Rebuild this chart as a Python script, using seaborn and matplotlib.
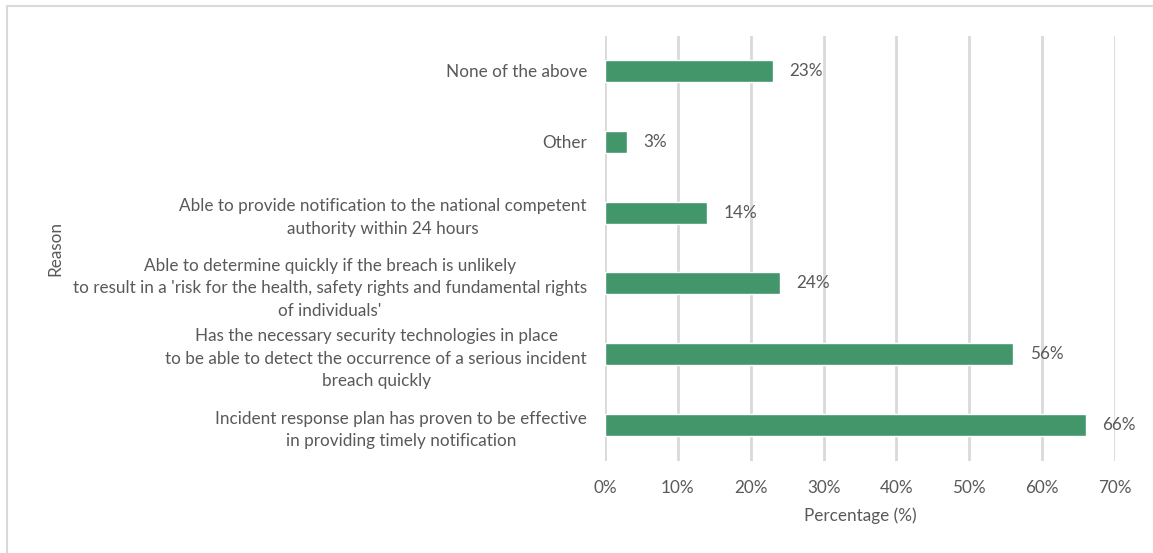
import matplotlib
matplotlib.use("Agg")
import matplotlib.pyplot as plt
import seaborn as sns
import pandas as pd
from matplotlib.lines import Line2D
from matplotlib.ticker import FuncFormatter

reasons = [
    "None of the above",
    "Other",
    "Able to provide notification to the national competent\nauthority within 24 hours",
    "Able to determine quickly if the breach is unlikely\nto result in a 'risk for the health, safety rights and fundamental rights\nof individuals'",
    "Has the necessary security technologies in place\nto be able to detect the occurrence of a serious incident\nbreach quickly",
    "Incident response plan has proven to be effective\nin providing timely notification",
]
percentages = [23, 3, 14, 24, 56, 66]
x_ticks = [0, 10, 20, 30, 40, 50, 60, 70]

df = pd.DataFrame({"Reason": reasons, "Percentage": percentages})

sns.set_theme(style="white")
plt.rcParams["font.family"] = ["Lato", "DejaVu Sans"]
text_color = "#595959"
bar_color = "#43966A"
grid_color = "#D9D9D9"
fs = 12.3

fig = plt.figure(figsize=(11.53, 5.53), dpi=100)
ax = fig.add_axes([605 / 1153, 1 - 460.5 / 553, 510 / 1153, 425 / 553])

sns.barplot(data=df, x="Percentage", y="Reason", orient="h", color=bar_color,
            width=0.31, saturation=1, ax=ax, zorder=3)

ax.set_xlim(0, 70)
ax.set_xticks(x_ticks)
ax.xaxis.set_major_formatter(FuncFormatter(lambda v, _: f"{v:.0f}%"))
ax.grid(axis="x", color=grid_color, linewidth=2, zorder=0)
ax.grid(axis="y", visible=False)
for s in ax.spines.values():
    s.set_visible(False)
ax.tick_params(axis="both", length=0, colors=text_color, labelsize=fs)
ax.tick_params(axis="x", pad=14)
ax.tick_params(axis="y", pad=13)
for lbl in ax.get_yticklabels():
    lbl.set_horizontalalignment("right")
    lbl.set_multialignment("center")
    lbl.set_linespacing(1.5)

ax.set_xlabel("Percentage (%)", color=text_color, fontsize=fs, labelpad=8)
ax.set_ylabel("Reason", color=text_color, fontsize=fs)
ax.yaxis.set_label_coords((63 - 605) / 510, (460.5 - 248) / 425)

for container in ax.containers:
    ax.bar_label(container, labels=[f"{v}%" for v in percentages], padding=12,
                 color=text_color, fontsize=fs, zorder=4)

# Chart frame (top and left edges)
fig.add_artist(Line2D([7 / 1153, 1], [1 - 6 / 553, 1 - 6 / 553], transform=fig.transFigure,
                      color=grid_color, linewidth=1.5))
fig.add_artist(Line2D([7 / 1153, 7 / 1153], [0, 1 - 6 / 553], transform=fig.transFigure,
                      color=grid_color, linewidth=1.5))

fig.savefig("out.png", dpi=100, facecolor="white")
